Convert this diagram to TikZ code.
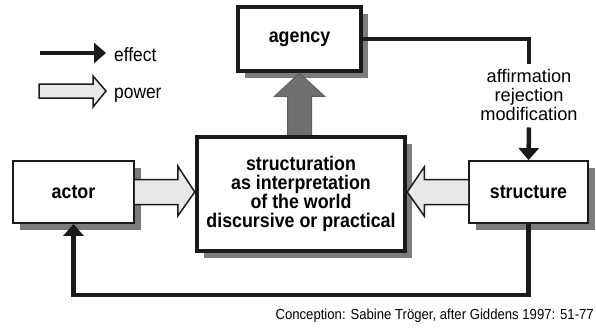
\documentclass[tikz,border=0pt]{standalone}
\usepackage{fontspec}
\setmainfont{Liberation Sans}
\newfontfamily\narrowsans[FakeStretch=0.9]{Liberation Sans}
\usetikzlibrary{arrows.meta,shadows,calc}
\definecolor{shadowgray}{HTML}{7C7C7C}
\definecolor{powerfill}{HTML}{E8E8E8}
\definecolor{upfill}{HTML}{707070}
\definecolor{ink}{HTML}{1A1A1A}
\begin{document}
\begin{tikzpicture}[x=1pt,y=-1pt,
  box/.style={draw=ink, fill=white, line width=1.8pt, inner sep=0pt, align=center,
    font=\narrowsans\fontsize{19.8}{18.9}\selectfont\bfseries,
    drop shadow={shadow xshift=7pt, shadow yshift=-7pt, fill=shadowgray, opacity=1}},
  thickbox/.style={box, line width=4.5pt},
  effect/.style={draw=ink, line width=4.5pt, -{Triangle[width=20pt,length=12pt]}},
  effectline/.style={draw=ink, line width=4.5pt},
  power/.style={draw=ink, line width=1.5pt, fill=powerfill, line join=miter},
  uparrow/.style={draw=ink!70, line width=1pt, fill=upfill, line join=miter},
  label/.style={font=\fontsize{18.2}{18.6}\selectfont, align=center},
  legendtext/.style={font=\narrowsans\fontsize{19.3}{18}\selectfont, inner sep=0pt},
  caption/.style={font=\narrowsans\fontsize{14.6}{15}\selectfont, inner sep=0pt}
]
\useasboundingbox (0,0) rectangle (596,327);

% boxes
\node[thickbox, minimum width=123pt, minimum height=64pt] (agency) at (299.5,39) {agency};
\node[thickbox, minimum width=208pt, minimum height=114pt] (sv) at (301,194)
  {structuration\\as interpretation\\of the world\\discursive or practical};
\node[box, minimum width=121pt, minimum height=62pt] (actor) at (73.5,192) {actor};
\node[box, minimum width=119pt, minimum height=62pt] (structure) at (528.5,192) {structure};

% label on the effect path
\node[label, inner sep=4pt] (resp) at (529,95) {affirmation\\rejection\\modification};

% effect arrows
\draw[effectline] (agency.east) -| ([yshift=2pt]resp.north);
\draw[effect] ([yshift=-3pt]resp.south) -- (structure.north);
\draw[effect] (structure.south) -- ++(0,71) -| (actor.south);

% power arrows
\filldraw[power] ($(actor.east)+(0,-12.5)$)
  -- ($(sv.west |- actor.east)+(-17,-12.5)$)
  -- ($(sv.west |- actor.east)+(-17,-26)$)
  -- (sv.west |- actor.east)
  -- ($(sv.west |- actor.east)+(-17,24)$)
  -- ($(sv.west |- actor.east)+(-17,12.5)$)
  -- ($(actor.east)+(0,12.5)$);
\filldraw[power] ($(structure.west)+(0,-12.5)$)
  -- ($(sv.east |- structure.west)+(17,-12.5)$)
  -- ($(sv.east |- structure.west)+(17,-25)$)
  -- (sv.east |- structure.west)
  -- ($(sv.east |- structure.west)+(17,24)$)
  -- ($(sv.east |- structure.west)+(17,12.5)$)
  -- ($(structure.west)+(0,12.5)$);

% structuration -> agency
\filldraw[uparrow] ($(sv.north -| agency.south)+(-12,0)$)
  -- ($(agency.south)+(-12,23)$)
  -- ($(agency.south)+(-25,23)$)
  -- (agency.south)
  -- ($(agency.south)+(25,23)$)
  -- ($(agency.south)+(12,23)$)
  -- ($(sv.north -| agency.south)+(12,0)$);

% legend
\coordinate (le1) at (40,53);
\coordinate (le2) at (106,53);
\draw[effect] (le1) -- (le2);
\node[legendtext, anchor=base west] (leffect) at (114,61) {effect};
\coordinate (lp1) at (39,91);
\filldraw[power] ($(lp1)+(0,-7)$) -- ($(lp1)+(54,-7)$) -- ($(lp1)+(54,-15)$)
  -- ($(lp1)+(67,0)$) -- ($(lp1)+(54,16)$) -- ($(lp1)+(54,7)$) -- ($(lp1)+(0,7)$) -- cycle;
\node[legendtext, anchor=base west] (lpower) at (114,98) {power};

% caption
\node[caption, anchor=base east] (cap) at (594,319) {Conception: Sabine Tröger, after Giddens 1997: 51-77};
\end{tikzpicture}
\end{document}
